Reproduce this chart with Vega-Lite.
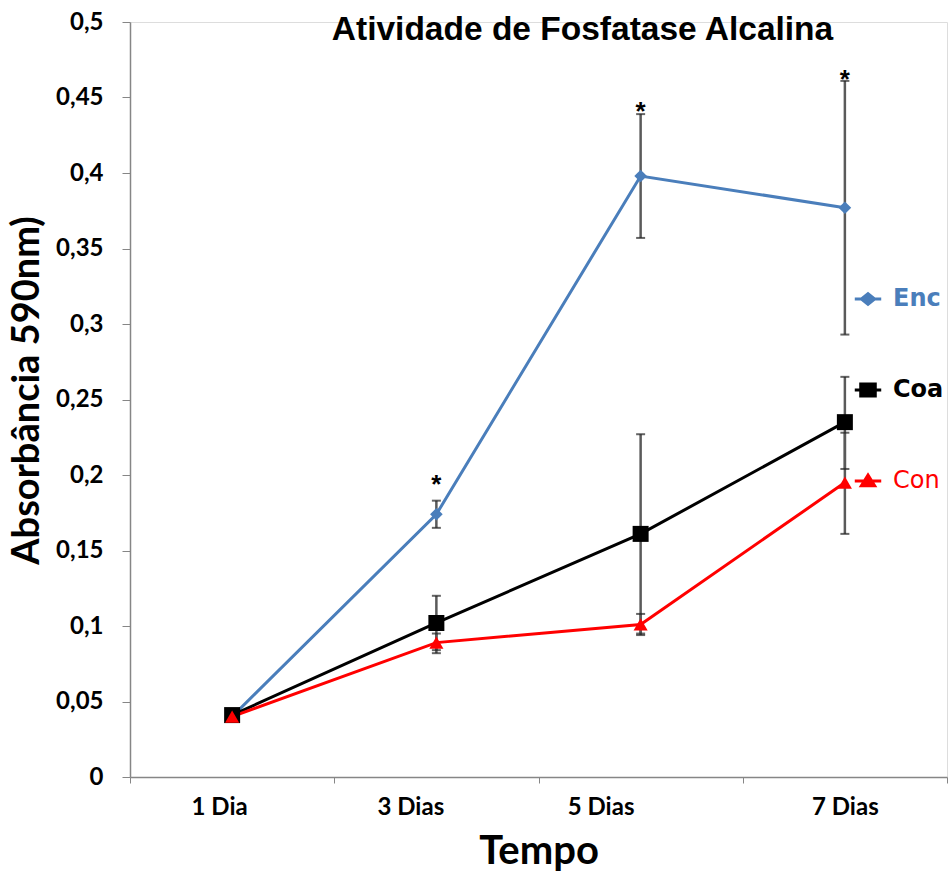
{
  "$schema": "https://vega.github.io/schema/vega-lite/v6.json",
  "width": 817,
  "height": 755,
  "autosize": {"type": "none"},
  "padding": {"left": 130, "top": 22, "right": 3, "bottom": 99},
  "background": "white",
  "title": {
    "text": "Atividade de Fosfatase Alcalina",
    "font": "Liberation Sans",
    "fontSize": 33.5,
    "fontWeight": "bold",
    "color": "#000000",
    "anchor": "middle",
    "baseline": "alphabetic",
    "offset": -63,
    "dx": 44
  },
  "datasets": {
    "series": [
      {"day": "1 Dia", "series": "Enc", "value": 0.040, "lo": null, "hi": null},
      {"day": "3 Dias", "series": "Enc", "value": 0.174, "lo": 0.165, "hi": 0.183},
      {"day": "5 Dias", "series": "Enc", "value": 0.398, "lo": 0.357, "hi": 0.439},
      {"day": "7 Dias", "series": "Enc", "value": 0.377, "lo": 0.293, "hi": 0.461},
      {"day": "1 Dia", "series": "Coa", "value": 0.041, "lo": null, "hi": null},
      {"day": "3 Dias", "series": "Coa", "value": 0.102, "lo": 0.084, "hi": 0.120},
      {"day": "5 Dias", "series": "Coa", "value": 0.161, "lo": 0.095, "hi": 0.227},
      {"day": "7 Dias", "series": "Coa", "value": 0.235, "lo": 0.204, "hi": 0.265},
      {"day": "1 Dia", "series": "Con", "value": 0.040, "lo": null, "hi": null},
      {"day": "3 Dias", "series": "Con", "value": 0.089, "lo": 0.082, "hi": 0.095},
      {"day": "5 Dias", "series": "Con", "value": 0.101, "lo": 0.094, "hi": 0.108},
      {"day": "7 Dias", "series": "Con", "value": 0.195, "lo": 0.161, "hi": 0.228}
    ],
    "stars": [
      {"day": "3 Dias", "label": "*", "value": 0.198},
      {"day": "5 Dias", "label": "*", "value": 0.445},
      {"day": "7 Dias", "label": "*", "value": 0.466}
    ]
  },
  "encoding": {
    "x": {
      "field": "day",
      "type": "nominal",
      "bandPosition": 0.5,
      "sort": ["1 Dia", "3 Dias", "5 Dias", "7 Dias"],
      "scale": {"type": "band", "paddingInner": 0, "paddingOuter": 0, "domain": ["1 Dia", "3 Dias", "5 Dias", "7 Dias"]},
      "axis": {
        "title": "Tempo",
        "titleFont": "Lato",
        "titleFontSize": 40,
        "titleFontWeight": "bold",
        "titleColor": "#000000",
        "titlePadding": 12,
        "labelFont": "Lato",
        "labelFontSize": 24,
        "labelFontWeight": "bold",
        "labelColor": "#000000",
        "labelAngle": 0,
        "labelPadding": 12,
        "labelOffset": {
          "condition": [
            {"test": "datum.value == '1 Dia'", "value": -13},
            {"test": "datum.value == '3 Dias'", "value": -26},
            {"test": "datum.value == '5 Dias'", "value": -40}
          ],
          "value": 0
        },
        "tickBand": "extent",
        "tickSize": 6,
        "tickColor": "#868686",
        "domainColor": "#868686",
        "domainWidth": 1.5,
        "grid": false
      }
    },
    "y": {
      "type": "quantitative",
      "scale": {"domain": [0, 0.5], "nice": false, "zero": true},
      "axis": {
        "title": "Absorbância 590nm)",
        "titleFont": "Lato",
        "titleFontSize": 38,
        "titleFontWeight": "bold",
        "titleColor": "#000000",
        "titlePadding": 9,
        "titleY": 368,
        "values": [0, 0.05, 0.1, 0.15, 0.2, 0.25, 0.3, 0.35, 0.4, 0.45, 0.5],
        "labelExpr": "replace(format(datum.value, '.2~f'), '.', ',')",
        "labelFont": "Lato",
        "labelFontSize": 24,
        "labelFontWeight": "bold",
        "labelColor": "#000000",
        "labelPadding": 19,
        "tickSize": 8,
        "tickColor": "#868686",
        "domainColor": "#868686",
        "domainWidth": 1.5,
        "grid": false
      }
    }
  },
  "layer": [
    {
      "data": {"name": "series"},
      "mark": {"type": "rule", "strokeWidth": 2.5, "color": "#5a5a5a"},
      "encoding": {
        "y": {"field": "lo", "type": "quantitative"},
        "y2": {"field": "hi"}
      }
    },
    {
      "data": {"name": "series"},
      "mark": {"type": "tick", "orient": "horizontal", "size": 9, "thickness": 2, "color": "#222222"},
      "encoding": {"y": {"field": "lo", "type": "quantitative"}}
    },
    {
      "data": {"name": "series"},
      "mark": {"type": "tick", "orient": "horizontal", "size": 9, "thickness": 2, "color": "#222222"},
      "encoding": {"y": {"field": "hi", "type": "quantitative"}}
    },
    {
      "data": {"name": "series"},
      "mark": {"type": "line", "strokeWidth": 3},
      "encoding": {
        "y": {"field": "value", "type": "quantitative"},
        "color": {
          "field": "series",
          "type": "nominal",
          "sort": ["Enc", "Coa", "Con"],
          "scale": {"domain": ["Enc", "Coa", "Con"], "range": ["#4a7ebb", "#000000", "#ff0000"]},
          "legend": {
            "orient": "none",
            "legendX": 723,
            "legendY": 262,
            "title": null,
            "symbolSize": 700,
            "symbolStrokeWidth": 3,
            "symbolOffset": 0,
            "rowPadding": 64,
            "labelFont": "DejaVu Sans",
            "labelFontSize": 24,
            "labelOffset": 10,
            "labelLimit": 100,
            "encode": {
              "symbols": {
                "update": {
                  "shape": {"signal": "datum.value == 'Enc' ? 'M-1,0H1M0,-0.4L0.5,0L0,0.4L-0.5,0Z' : datum.value == 'Coa' ? 'M-1,0H1M-0.55,-0.45H0.55V0.45H-0.55Z' : 'M-1,0H1M0,-0.45L0.5,0.35H-0.5Z'"},
                  "fill": {"signal": "datum.value == 'Enc' ? '#4a7ebb' : datum.value == 'Coa' ? '#000000' : '#ff0000'"},
                  "stroke": {"signal": "datum.value == 'Enc' ? '#4a7ebb' : datum.value == 'Coa' ? '#000000' : '#ff0000'"},
                  "fillOpacity": {"value": 1},
                  "strokeWidth": {"value": 3}
                }
              },
              "labels": {
                "update": {
                  "fill": {"signal": "datum.value == 'Enc' ? '#4a7ebb' : datum.value == 'Coa' ? '#000000' : '#ff0000'"},
                  "fontWeight": {"signal": "datum.value == 'Con' ? 'normal' : 'bold'"}
                }
              }
            }
          }
        }
      }
    },
    {
      "data": {"name": "series"},
      "transform": [{"filter": "datum.series == 'Enc'"}],
      "mark": {"type": "point", "filled": true, "opacity": 1, "shape": "diamond", "size": 160},
      "encoding": {
        "y": {"field": "value", "type": "quantitative"},
        "color": {"field": "series", "type": "nominal", "legend": null}
      }
    },
    {
      "data": {"name": "series"},
      "transform": [{"filter": "datum.series == 'Coa'"}],
      "mark": {"type": "point", "filled": true, "opacity": 1, "shape": "square", "size": 256},
      "encoding": {
        "y": {"field": "value", "type": "quantitative"},
        "color": {"field": "series", "type": "nominal", "legend": null}
      }
    },
    {
      "data": {"name": "series"},
      "transform": [{"filter": "datum.series == 'Con'"}],
      "mark": {"type": "point", "filled": true, "opacity": 1, "shape": "triangle-up", "size": 200},
      "encoding": {
        "y": {"field": "value", "type": "quantitative"},
        "color": {"field": "series", "type": "nominal", "legend": null}
      }
    },
    {
      "data": {"name": "stars"},
      "mark": {"type": "text", "font": "Liberation Sans", "fontSize": 26, "fontWeight": "bold", "color": "#000000", "baseline": "middle", "dy": 7},
      "encoding": {
        "y": {"field": "value", "type": "quantitative"},
        "text": {"field": "label"}
      }
    }
  ]
}
